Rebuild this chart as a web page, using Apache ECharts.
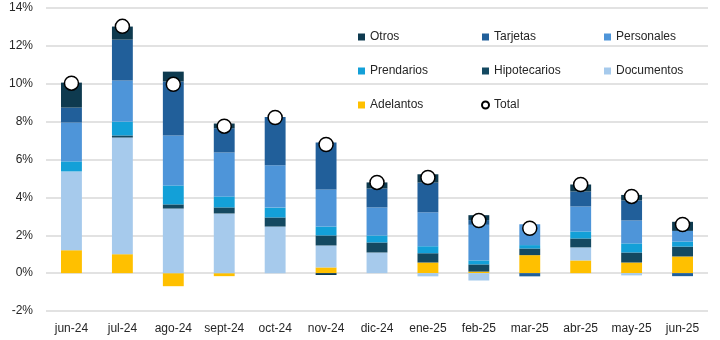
<!DOCTYPE html>
<html>
<head>
<meta charset="utf-8">
<script src="https://cdn.jsdelivr.net/npm/echarts@6/dist/echarts.min.js"></script>
<style>
  html, body { margin: 0; padding: 0; background: #ffffff; }
  #chart { width: 720px; height: 340px; }
</style>
</head>
<body>
<div id="chart"></div>
<script>
// Monthly contribution by loan type (percentage points)
const months = ['jun-24', 'jul-24', 'ago-24', 'sept-24', 'oct-24', 'nov-24', 'dic-24', 'ene-25', 'feb-25', 'mar-25', 'abr-25', 'may-25', 'jun-25'];

const adelantos    = [1.21, 1.00, -0.69, -0.16, 0.00, 0.30, 0.00, 0.56, 0.08, 0.95, 0.67, 0.56, 0.88];
const documentos   = [4.16, 6.16, 3.41, 3.15, 2.46, 1.16, 1.09, -0.17, -0.39, 0.00, 0.69, -0.12, 0.00];
const hipotecarios = [0.00, 0.11, 0.22, 0.32, 0.48, 0.53, 0.53, 0.49, 0.38, 0.35, 0.47, 0.53, 0.52];
const prendarios   = [0.53, 0.73, 1.00, 0.58, 0.52, 0.47, 0.37, 0.37, 0.21, 0.18, 0.37, 0.48, 0.27];
const personales   = [2.05, 2.17, 2.64, 2.32, 2.23, 1.96, 1.48, 1.79, 1.88, 1.10, 1.32, 1.21, 0.56];
const tarjetas     = [0.79, 2.16, 2.85, 1.28, 2.55, 2.48, 1.00, 1.57, 0.25, -0.17, 0.79, 1.06, -0.16];
const otros        = [1.32, 0.69, 0.52, 0.25, 0.00, -0.10, 0.32, 0.44, 0.26, 0.00, 0.37, 0.29, 0.48];
const total        = [10.03, 13.03, 9.97, 7.76, 8.22, 6.79, 4.79, 5.05, 2.78, 2.37, 4.68, 4.05, 2.57];

const yTicks = { min: -2, max: 14, interval: 2 };

const FONT = 'Liberation Sans';
const TEXT = '#262626';

// Stack order, bottom to top
const stackDefs = [
  { name: 'Adelantos',    data: adelantos,    color: '#ffc000' },
  { name: 'Documentos',   data: documentos,   color: '#a6caec' },
  { name: 'Hipotecarios', data: hipotecarios, color: '#144961' },
  { name: 'Prendarios',   data: prendarios,   color: '#13a0d8' },
  { name: 'Personales',   data: personales,   color: '#4e95d9' },
  { name: 'Tarjetas',     data: tarjetas,     color: '#215f9a' },
  { name: 'Otros',        data: otros,        color: '#0e3a4f' }
];

const barSeries = stackDefs.map(d => ({
  name: d.name,
  type: 'bar',
  stack: 'loans',
  data: d.data,
  barWidth: '41%',
  itemStyle: { color: d.color },
  emphasis: { disabled: true }
}));

const legendBase = {
  orient: 'vertical',
  top: 30,
  padding: 0,
  itemWidth: 7,
  itemHeight: 7,
  itemGap: 20,
  textStyle: { fontFamily: FONT, fontSize: 12, color: TEXT, lineHeight: 14 },
  selectedMode: false
};

const chart = echarts.init(document.getElementById('chart'), null, { renderer: 'canvas' });

chart.setOption({
  animation: false,
  backgroundColor: '#ffffff',
  grid: { left: 46, right: 12, top: 8, bottom: 29, containLabel: false },
  legend: [
    Object.assign({}, legendBase, { left: 358, data: [
      { name: 'Otros', icon: 'rect' },
      { name: 'Prendarios', icon: 'rect' },
      { name: 'Adelantos', icon: 'rect' }
    ] }),
    Object.assign({}, legendBase, { left: 481, data: [
      { name: 'Tarjetas', icon: 'rect' },
      { name: 'Hipotecarios', icon: 'rect' },
      { name: 'Total', icon: 'circle', itemStyle: { color: '#ffffff', borderColor: '#000000', borderWidth: 2 } }
    ] }),
    Object.assign({}, legendBase, { left: 604, data: [
      { name: 'Personales', icon: 'rect' },
      { name: 'Documentos', icon: 'rect' }
    ] })
  ],
  xAxis: {
    type: 'category',
    data: months,
    axisLine: { show: false },
    axisTick: { show: false },
    axisLabel: { fontFamily: FONT, fontSize: 12, color: TEXT, margin: 12, interval: 0 }
  },
  yAxis: {
    type: 'value',
    min: yTicks.min,
    max: yTicks.max,
    interval: yTicks.interval,
    axisLine: { show: false },
    axisTick: { show: false },
    axisLabel: { fontFamily: FONT, fontSize: 12, color: TEXT, margin: 13, formatter: '{value}%' },
    splitLine: { lineStyle: { color: '#d9d9d9', width: 1.5 } }
  },
  series: barSeries.concat([{
    name: 'Total',
    type: 'scatter',
    data: total,
    symbol: 'circle',
    symbolSize: 14,
    z: 5,
    itemStyle: { color: '#ffffff', borderColor: '#000000', borderWidth: 1.5, opacity: 1 },
    emphasis: { disabled: true }
  }])
});
</script>
</body>
</html>
